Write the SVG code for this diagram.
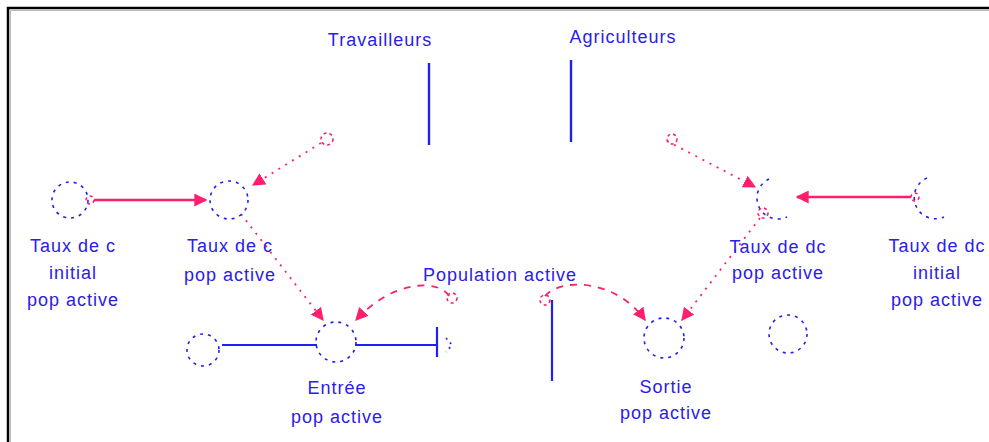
<svg xmlns="http://www.w3.org/2000/svg" width="989" height="442" viewBox="0 0 989 442">
<style>
.t{font-family:"Liberation Sans",Arial,sans-serif;font-size:18px;letter-spacing:1px;fill:#2a20e8;text-anchor:middle}
.aux{fill:none;stroke:#2020f0;stroke-width:1.6;stroke-dasharray:3 5}
.flow{fill:none;stroke:#2020f0;stroke-width:2.2}
.dot{fill:none;stroke:#ff1f6e;stroke-width:1.8;stroke-dasharray:2 6}
.dash{fill:none;stroke:#ff1f6e;stroke-width:1.8;stroke-dasharray:7 7}
.solid{fill:none;stroke:#ff1f6e;stroke-width:2.4}
.src{fill:none;stroke:#ff1f6e;stroke-width:1.6;stroke-dasharray:3 3}
</style>
<defs>
<marker id="ah" viewBox="0 0 10 10" refX="9" refY="5" markerWidth="13" markerHeight="13" markerUnits="userSpaceOnUse" orient="auto">
<path d="M0,0 L10,5 L0,10 z" fill="#ff1f6e"/>
</marker>
</defs>
<rect width="989" height="442" fill="#ffffff"/>
<path d="M8,442 V8 H989" fill="none" stroke="#000" stroke-width="2.5"/>
<path d="M10.5,442 V10.5 H989" fill="none" stroke="#bbb" stroke-width="1"/>

<g id="connectors">
<path class="solid" d="M94,200 H206" marker-end="url(#ah)"/>
<path class="solid" d="M911,197 H797" marker-end="url(#ah)"/>
<path class="dot" d="M321,143 L253,185" marker-end="url(#ah)"/>
<path class="dot" d="M241,214 L323,320" marker-end="url(#ah)"/>
<path class="dot" d="M667,141 L755,187" marker-end="url(#ah)"/>
<path class="dot" d="M760,218 L682,320" marker-end="url(#ah)"/>
<path class="dash" d="M449,296 C440,280 395,278 356,320" marker-end="url(#ah)"/>
<path class="dash" d="M545,296 C560,278 615,278 645,320" marker-end="url(#ah)"/>
<path class="flow" d="M222,345 H317"/>
<path class="flow" d="M355,345 H437"/>
<path class="flow" d="M437,327 V357"/>
<path d="M446,338 L452,345 L446,352" fill="none" stroke="#2020f0" stroke-width="1.6" stroke-dasharray="2 4"/>
<path class="flow" d="M552,300 V381"/>
</g>

<g id="travailleurs">
<text class="t" x="380" y="46">Travailleurs</text>
<line x1="429" y1="63" x2="429" y2="145" stroke="#2020f0" stroke-width="2.4"/>
</g>
<g id="agriculteurs">
<text class="t" x="623" y="43">Agriculteurs</text>
<line x1="571" y1="60" x2="571" y2="142" stroke="#2020f0" stroke-width="2.4"/>
</g>

<g id="src-trav"><circle class="src" cx="327" cy="139" r="6"/></g>
<g id="src-agri"><circle class="src" cx="672" cy="139" r="5"/></g>

<g id="taux-c-initial">
<circle class="aux" cx="70" cy="200" r="18"/>
<circle class="src" cx="90" cy="200" r="4"/>
<text class="t" x="73" y="252">Taux de c</text>
<text class="t" x="73" y="279">initial</text>
<text class="t" x="73" y="306">pop active</text>
</g>

<g id="taux-c-pop">
<circle class="aux" cx="229" cy="200" r="19"/>
<text class="t" x="230" y="252">Taux de c</text>
<text class="t" x="230" y="281">pop active</text>
</g>

<g id="taux-dc-pop">
<path class="aux" d="M769,179 A19,19 0 0 0 787,217"/>
<circle class="src" cx="763" cy="213" r="5"/>
<text class="t" x="778" y="253">Taux de dc</text>
<text class="t" x="778" y="279">pop active</text>
</g>

<g id="taux-dc-initial">
<path class="aux" d="M927,178 A20,20 0 0 0 944,217"/>
<circle class="src" cx="915" cy="197" r="4"/>
<text class="t" x="937" y="252">Taux de dc</text>
<text class="t" x="937" y="279">initial</text>
<text class="t" x="937" y="306">pop active</text>
</g>

<g id="population-active">
<text class="t" x="500" y="281">Population active</text>
<circle class="src" cx="452" cy="298" r="5"/>
<circle class="src" cx="545" cy="300" r="5"/>
</g>

<g id="cloud-entree">
<circle class="aux" cx="203" cy="350" r="16"/>
</g>

<g id="entree">
<circle class="aux" cx="336" cy="342" r="20"/>
<text class="t" x="337" y="394">Entrée</text>
<text class="t" x="337" y="423">pop active</text>
</g>

<g id="sortie">
<circle class="aux" cx="664" cy="338" r="20"/>
<text class="t" x="666" y="393">Sortie</text>
<text class="t" x="666" y="419">pop active</text>
</g>

<g id="cloud-sortie">
<circle class="aux" cx="788" cy="334" r="19"/>
</g>
</svg>
